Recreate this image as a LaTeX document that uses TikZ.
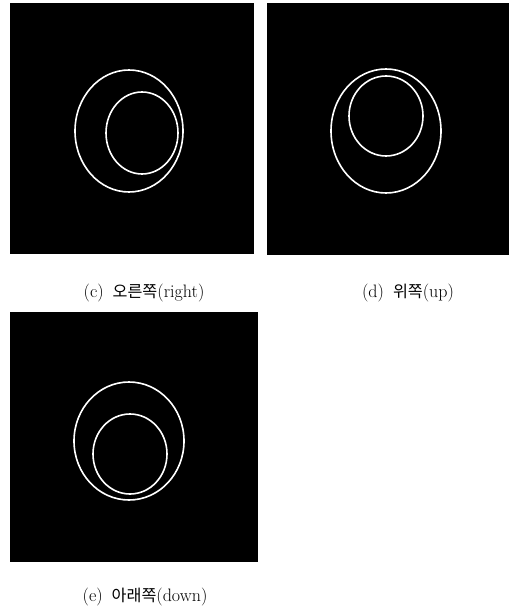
\documentclass[tikz,border=0pt]{standalone}
\usepackage{fontspec}
\newfontfamily\kr[Scale=0.9]{Noto Sans CJK KR}
\usetikzlibrary{positioning}
\tikzset{
  panel/.style={fill=black},
  ring/.style={draw=white,line width=1.6pt},
  sublabel/.style={font=\fontsize{18}{20}\selectfont,inner sep=0pt,anchor=center}
}
\begin{document}
\begin{tikzpicture}[x=1pt,y=-1pt]
  \useasboundingbox (0,0) rectangle (510,609);
  % (c) right
  \fill[panel] (10,3) rectangle (254,254);
  \draw[ring] (129,131) ellipse [x radius=54,y radius=61];
  \draw[ring] (142,133) ellipse [x radius=36,y radius=41];
  \node[sublabel] (labc) at (144,293.5) {(c)\hspace{0.5em}{\kr 오른쪽}(right)};
  % (d) up
  \fill[panel] (267,3) rectangle (509,255);
  \draw[ring] (386,131) ellipse [x radius=55,y radius=62];
  \draw[ring] (386,116) ellipse [x radius=37,y radius=40];
  \node[sublabel] (labd) at (408,293.5) {(d)\hspace{0.5em}{\kr 위쪽}(up)};
  % (e) down
  \fill[panel] (10,312) rectangle (258,562);
  \draw[ring] (129,441) ellipse [x radius=55,y radius=59];
  \draw[ring] (130,454) ellipse [x radius=37,y radius=40];
  \node[sublabel] (labe) at (145,597) {(e)\hspace{0.5em}{\kr 아래쪽}(down)};
\end{tikzpicture}
\end{document}
